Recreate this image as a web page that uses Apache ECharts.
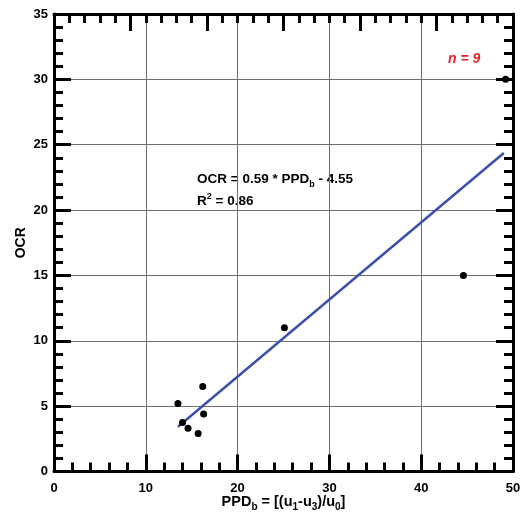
<!DOCTYPE html>
<html>
<head>
<meta charset="utf-8">
<script src="https://cdn.jsdelivr.net/npm/echarts@6/dist/echarts.min.js"></script>
<style>html,body{margin:0;padding:0;background:#fff;}#c{width:522px;height:513px;}</style>
</head>
<body>
<div id="c"></div>
<script>
var ppd = [13.5, 16.2, 16.3, 14.0, 14.6, 15.7, 25.1, 44.6, 49.2];
var ocr = [5.2, 6.5, 4.4, 3.75, 3.3, 2.9, 11.0, 15.0, 30.0];
var fitX = [13.5, 49.0];
var fitY = [3.42, 24.36];
var xTicks = [0, 10, 20, 30, 40, 50];
var yTicks = [0, 5, 10, 15, 20, 25, 30, 35];

var points = ppd.map(function (v, i) { return [v, ocr[i]]; });
var fit = fitX.map(function (v, i) { return [v, fitY[i]]; });

var font = 'Liberation Sans, Arial, sans-serif';
var tickLine = { color: '#000', width: 3 };
var axLine = { show: true, onZero: false, lineStyle: { color: '#000', width: 3 } };

var chart = echarts.init(document.getElementById('c'), null, { renderer: 'canvas' });
chart.setOption({
  animation: false,
  backgroundColor: '#fff',
  grid: { left: 54, right: 9, top: 14, bottom: 41.5, containLabel: false, outerBoundsMode: 'none' },
  xAxis: [{
    type: 'value', min: 0, max: 50, interval: 10, position: 'bottom',
    axisLine: axLine,
    axisTick: { show: true, inside: true, length: 17, lineStyle: tickLine },
    minorTick: { show: true, splitNumber: 5, length: 9, lineStyle: tickLine },
    splitLine: { show: true, lineStyle: { color: '#6e6e6e', width: 1 } },
    axisLabel: { color: '#000', fontFamily: font, fontWeight: 'bold', fontSize: 13, margin: 10,
      formatter: function (v) { return xTicks.indexOf(v) >= 0 ? String(v) : ''; } },
    name: '{m|PPD}{s|b}{m| = [(u}{s|1}{m|-u}{s|3}{m|)/u}{s|0}{m|]}',
    nameLocation: 'middle', nameGap: 19, nameMoveOverlap: false,
    nameTextStyle: {
      rich: {
        m: { fontFamily: font, fontWeight: 'bold', fontSize: 14.5, color: '#000', lineHeight: 22, verticalAlign: 'middle' },
        s: { fontFamily: font, fontWeight: 'bold', fontSize: 10, color: '#000', lineHeight: 10, verticalAlign: 'bottom' }
      }
    }
  }, {
    type: 'value', min: 0, max: 6, interval: 1, position: 'top',
    axisLine: axLine,
    axisTick: { show: true, inside: true, length: 17, lineStyle: tickLine },
    minorTick: { show: true, splitNumber: 5, length: 9, lineStyle: tickLine },
    splitLine: { show: false },
    axisLabel: { show: false }
  }],
  yAxis: [{
    type: 'value', min: 0, max: 35, interval: 5, position: 'left',
    axisLine: axLine,
    axisTick: { show: true, inside: true, length: 17, lineStyle: tickLine },
    minorTick: { show: true, splitNumber: 5, length: 9, lineStyle: tickLine },
    splitLine: { show: true, lineStyle: { color: '#6e6e6e', width: 1 } },
    axisLabel: { color: '#000', fontFamily: font, fontWeight: 'bold', fontSize: 13, margin: 6,
      formatter: function (v) { return yTicks.indexOf(v) >= 0 ? String(v) : ''; } },
    name: 'OCR', nameLocation: 'middle', nameGap: 26, nameRotate: 90, nameMoveOverlap: false,
    nameTextStyle: { fontFamily: font, fontWeight: 'bold', fontSize: 14, color: '#000' }
  }, {
    type: 'value', min: 0, max: 35, interval: 5, position: 'right',
    axisLine: axLine,
    axisTick: { show: true, inside: true, length: 17, lineStyle: tickLine },
    minorTick: { show: true, splitNumber: 5, length: 9, lineStyle: tickLine },
    splitLine: { show: false },
    axisLabel: { show: false }
  }],
  series: [{
    type: 'line', data: fit, xAxisIndex: 0, yAxisIndex: 0,
    showSymbol: false, symbol: 'none',
    lineStyle: { color: '#3c50aa', width: 2.5 }, z: 3
  }, {
    type: 'scatter', data: points, xAxisIndex: 0, yAxisIndex: 0,
    symbol: 'circle', symbolSize: 7,
    itemStyle: { color: '#000', opacity: 1 }, z: 4
  }],
  graphic: [{
    type: 'text', left: 197, top: 172,
    style: {
      text: '{m|OCR = 0.59 * PPD}{s|b}{m| - 4.55}',
      rich: {
        m: { fontFamily: font, fontWeight: 'bold', fontSize: 13.5, fill: '#000', lineHeight: 20, verticalAlign: 'middle' },
        s: { fontFamily: font, fontWeight: 'bold', fontSize: 9, fill: '#000', lineHeight: 9, verticalAlign: 'bottom' }
      }
    }
  }, {
    type: 'text', left: 197, top: 192,
    style: {
      text: '{m|R}{p|2}{m| = 0.86}',
      rich: {
        m: { fontFamily: font, fontWeight: 'bold', fontSize: 13.5, fill: '#000', lineHeight: 18, verticalAlign: 'middle' },
        p: { fontFamily: font, fontWeight: 'bold', fontSize: 9, fill: '#000', lineHeight: 9, verticalAlign: 'top' }
      }
    }
  }, {
    type: 'text', left: 448, top: 52,
    style: { text: 'n = 9', fontFamily: font, fontWeight: 'bold', fontStyle: 'italic', fontSize: 14, fill: '#e8212b' }
  }]
});
</script>
</body>
</html>
